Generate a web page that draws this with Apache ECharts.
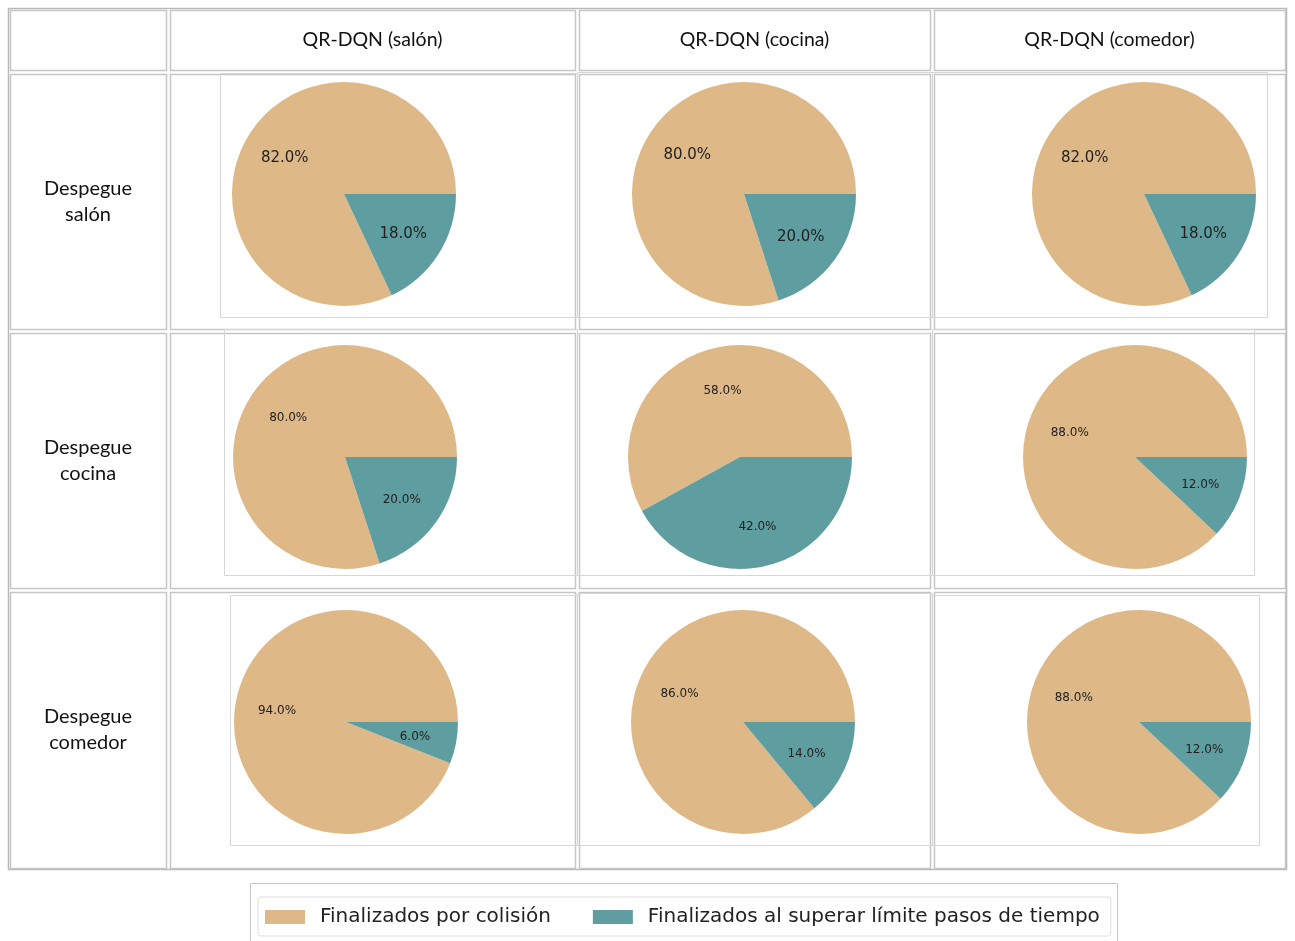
<!DOCTYPE html>
<html>
<head>
<meta charset="utf-8">
<script src="https://cdn.jsdelivr.net/npm/echarts@6/dist/echarts.min.js"></script>
<style>html,body{margin:0;padding:0;background:#fff}#c{width:1295px;height:941px}</style>
</head>
<body>
<div id="c"></div>
<script>
const colHeaders = ['QR-DQN (salón)', 'QR-DQN (cocina)', 'QR-DQN (comedor)'];
const rowHeaders = ['Despegue\nsalón', 'Despegue\ncocina', 'Despegue\ncomedor'];
const seriesNames = ['Finalizados por colisión', 'Finalizados al superar límite pasos de tiempo'];
// rows = despegue (salón, cocina, comedor); columns = model (salón, cocina, comedor)
const colision = [
  [82, 80, 82],
  [80, 58, 88],
  [94, 86, 88]
];
const limitePasos = [
  [18, 20, 18],
  [20, 42, 12],
  [6, 14, 12]
];
const colors = ['#DEB887', '#5F9EA0'];

// layout
const colX = [8, 168, 577, 932, 1287];
const rowY = [8, 72, 331, 590, 870];
const centers = [
  [[344, 194], [744, 194], [1144, 194]],
  [[345, 457], [740, 457], [1135, 457]],
  [[346, 722], [743, 722], [1139, 722]]
];
const frames = [
  [[220, 73, 577, 317], [577, 72, 932, 317], [932, 72, 1267, 317]],
  [[224, 329, 577, 575], [577, 333, 932, 575], [932, 329, 1254, 575]],
  [[230, 595, 577, 845], [577, 593, 932, 845], [932, 595, 1259, 845]]
];
const R = 112;
const labelSize = [15, 12, 12];

const graphic = [];
const gridColor = '#c6c6c6';
graphic.push({type: 'rect', shape: {x: 8.5, y: 8.5, width: 1278, height: 861}, style: {fill: 'none', stroke: '#b8b8b8', lineWidth: 1.5}, z: 1});
for (let r = 0; r < 4; r++) {
  for (let c = 0; c < 4; c++) {
    graphic.push({type: 'rect', shape: {x: colX[c] + 2.5, y: rowY[r] + 2.5, width: colX[c+1] - colX[c] - 4, height: rowY[r+1] - rowY[r] - 4},
      style: {fill: 'none', stroke: gridColor, lineWidth: 1.5}, z: 1});
  }
}
for (let r = 0; r < 3; r++) {
  for (let c = 0; c < 3; c++) {
    const f = frames[r][c];
    graphic.push({type: 'rect', shape: {x: f[0] + 0.5, y: f[1] + 0.5, width: f[2] - f[0], height: f[3] - f[1]},
      style: {fill: 'none', stroke: '#d6d6d6', lineWidth: 1}, z: 2});
  }
}
for (let c = 0; c < 3; c++) {
  graphic.push({type: 'text', x: (colX[c+1] + colX[c+2]) / 2, y: (rowY[0] + rowY[1]) / 2,
    style: {text: colHeaders[c], font: '19.5px Lato', fill: '#111', align: 'center', verticalAlign: 'middle'}, z: 5});
}
for (let r = 0; r < 3; r++) {
  graphic.push({type: 'text', x: (colX[0] + colX[1]) / 2, y: (rowY[r+1] + rowY[r+2]) / 2,
    style: {text: rowHeaders[r], font: '20px Lato', lineHeight: 26, fill: '#111', align: 'center', verticalAlign: 'middle'}, z: 5});
}
graphic.push({type: 'rect', shape: {x: 250.5, y: 883.5, width: 867, height: 70}, style: {fill: '#fff', stroke: '#c6c6c6', lineWidth: 1}, z: 1});

const series = [];
for (let r = 0; r < 3; r++) {
  for (let c = 0; c < 3; c++) {
    const data = [
      {name: seriesNames[0], value: colision[r][c], itemStyle: {color: colors[0]}},
      {name: seriesNames[1], value: limitePasos[r][c], itemStyle: {color: colors[1]}}
    ];
    series.push({
      type: 'pie', center: centers[r][c], radius: [0, R], startAngle: 0, clockwise: false,
      silent: true, animation: false, label: {show: false}, labelLine: {show: false},
      itemStyle: {borderWidth: 0}, data: data, z: 3
    });
    series.push({
      type: 'pie', center: [centers[r][c][0], centers[r][c][1] + 2], radius: [R * 0.2, R], startAngle: 0, clockwise: false,
      silent: true, animation: false, legendHoverLink: false,
      itemStyle: {color: 'rgba(0,0,0,0)', borderWidth: 0},
      label: {show: true, position: 'inside', formatter: p => p.value.toFixed(1) + '%',
        fontFamily: 'DejaVu Sans', fontSize: labelSize[r], color: '#222'},
      labelLine: {show: false},
      data: data.map(d => ({name: d.name, value: d.value, itemStyle: {color: 'rgba(0,0,0,0)'}})), z: 4
    });
  }
}

const chart = echarts.init(document.getElementById('c'), null, {renderer: 'canvas'});
chart.setOption({
  backgroundColor: '#fff',
  animation: false,
  graphic: graphic,
  legend: {
    data: [
      {name: seriesNames[0], itemStyle: {color: colors[0]}},
      {name: seriesNames[1], itemStyle: {color: colors[1]}}
    ],
    left: 258, top: 897, orient: 'horizontal',
    itemWidth: 40, itemHeight: 14, itemGap: 42, icon: 'rect',
    padding: [10, 11, 9, 7],
    borderColor: '#dddddd', borderWidth: 1, borderRadius: 3,
    backgroundColor: '#fff',
    selectedMode: false,
    textStyle: {fontFamily: 'DejaVu Sans', fontSize: 20, color: '#222', padding: [0, 0, 0, 10]}
  },
  series: series
});
</script>
</body>
</html>
